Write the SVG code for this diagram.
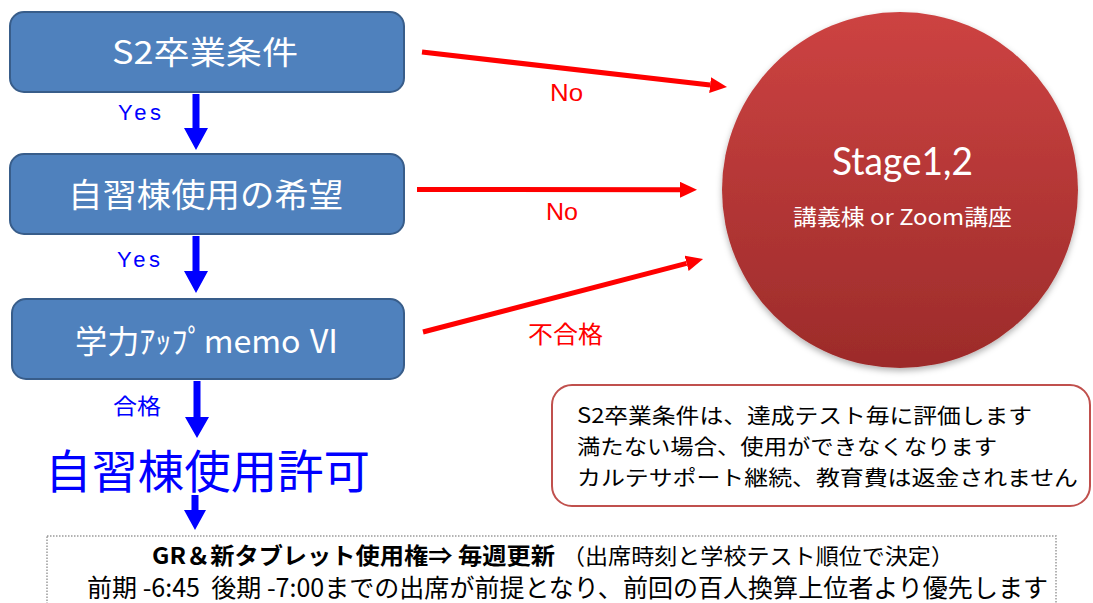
<svg xmlns="http://www.w3.org/2000/svg" width="1093" height="603" viewBox="0 0 1093 603">
  <style>
    .box { fill: #4f81bd; stroke: #385d8a; stroke-width: 2; }
    .boxtxt { fill: #ffffff; font-family: "Noto Sans CJK JP", "Liberation Sans", sans-serif; text-anchor: middle; }
    .blue { fill: #0000ff; }
    .bluelbl { fill: #0000ff; font-family: "Liberation Sans", "Noto Sans CJK JP", sans-serif; font-size: 22px; }
    .redlbl { fill: #ff0000; font-family: "Liberation Sans", "Noto Sans CJK JP", sans-serif; font-size: 24px; }
    .redline { stroke: #ff0000; stroke-width: 5; fill: none; }
    .jp { font-family: "Noto Sans CJK JP", sans-serif; }
    .note { font-family: "Noto Sans CJK JP", sans-serif; font-size: 21px; fill: #000000; }
  </style>
  <defs>
    <marker id="redhead" markerUnits="userSpaceOnUse" markerWidth="18" markerHeight="18" refX="0" refY="8" orient="auto">
      <path d="M0,0 L17,8 L0,16 Z" fill="#ff0000"/>
    </marker>
    <linearGradient id="circGrad" x1="0" y1="0" x2="0" y2="1">
      <stop offset="0" stop-color="#cd4342"/>
      <stop offset="1" stop-color="#9c2b2a"/>
    </linearGradient>
    <filter id="shadow" x="-20%" y="-20%" width="140%" height="140%">
      <feDropShadow dx="0" dy="3" stdDeviation="3" flood-color="#000000" flood-opacity="0.3"/>
    </filter>
  </defs>

  <g id="node-s2">
    <rect class="box" x="10" y="12" width="394" height="80" rx="14"/>
    <text class="boxtxt" x="205" y="64" font-size="32" textLength="186" lengthAdjust="spacingAndGlyphs">S2卒業条件</text>
  </g>

  <g id="node-kibou">
    <rect class="box" x="10" y="154" width="394" height="80" rx="14"/>
    <text class="boxtxt" x="205.5" y="207" font-size="33" textLength="275" lengthAdjust="spacingAndGlyphs">自習棟使用の希望</text>
  </g>

  <g id="node-memo">
    <rect class="box" x="12" y="299" width="392" height="80" rx="14"/>
    <text class="boxtxt" x="207.5" y="353" font-size="32" textLength="265" lengthAdjust="spacingAndGlyphs">学力ｱｯﾌﾟmemo Ⅵ</text>
  </g>

  <g id="node-kyoka">
    <text class="jp blue" x="45" y="488" font-size="46" textLength="325" lengthAdjust="spacingAndGlyphs">自習棟使用許可</text>
  </g>

  <g id="node-stage">
    <circle cx="900" cy="190" r="178" fill="url(#circGrad)" filter="url(#shadow)"/>
    <text x="902.5" y="175" fill="#ffffff" font-family="Lato, 'Noto Sans', sans-serif" font-size="38" text-anchor="middle" textLength="141" lengthAdjust="spacingAndGlyphs">Stage1,2</text>
    <text x="902.5" y="225" fill="#ffffff" font-family="'Noto Sans CJK JP', sans-serif" font-size="22" text-anchor="middle" textLength="219" lengthAdjust="spacingAndGlyphs">講義棟 or Zoom講座</text>
  </g>

  <g id="node-note">
    <rect x="552" y="385" width="538" height="121" rx="20" fill="#ffffff" stroke="#c0504d" stroke-width="2"/>
    <text class="note" x="577" y="423" textLength="455" lengthAdjust="spacingAndGlyphs">S2卒業条件は、達成テスト毎に評価します</text>
    <text class="note" x="577" y="454" textLength="420" lengthAdjust="spacingAndGlyphs">満たない場合、使用ができなくなります</text>
    <text class="note" x="577" y="485" textLength="501" lengthAdjust="spacingAndGlyphs">カルテサポート継続、教育費は返金されません</text>
  </g>

  <g id="node-bottom">
    <rect x="47" y="536" width="1009" height="90" fill="#ffffff" stroke="#9a9a9a" stroke-width="1.5" stroke-dasharray="1.5,1.5"/>
    <text class="jp" x="152" y="564" font-size="23" font-weight="bold" fill="#000000" textLength="403" lengthAdjust="spacingAndGlyphs">GR＆新タブレット使用権⇒ 毎週更新</text>
    <text class="jp" x="562" y="564" font-size="22" fill="#000000" textLength="392" lengthAdjust="spacingAndGlyphs">（出席時刻と学校テスト順位で決定）</text>
    <text class="jp" x="87" y="597" font-size="25" fill="#000000" textLength="961" lengthAdjust="spacingAndGlyphs" style="white-space:pre">前期 -6:45  後期 -7:00までの出席が前提となり、前回の百人換算上位者より優先します</text>
  </g>

  <g id="connectors">
    <path class="blue" d="M192.5,94 H199.5 V128 H208 L196,150 L184,128 H192.5 Z"/>
    <path class="blue" d="M192.5,236 H199.5 V271 H208 L196,293 L184,271 H192.5 Z"/>
    <path class="blue" d="M193.5,381 H200.5 V417 H209 L197,438 L185,417 H193.5 Z"/>
    <path class="blue" d="M191.5,495 H198.5 V510 H206 L195,530 L184,510 H191.5 Z"/>
    <text class="bluelbl" x="118" y="120" textLength="43" lengthAdjust="spacing">Yes</text>
    <text class="bluelbl" x="117" y="267" textLength="43" lengthAdjust="spacing">Yes</text>
    <text class="bluelbl" x="113" y="414" font-family="'Noto Sans CJK JP', sans-serif" textLength="48" lengthAdjust="spacingAndGlyphs">合格</text>

    <line class="redline" x1="422" y1="52" x2="710.1" y2="85.1" marker-end="url(#redhead)"/>
    <line class="redline" x1="417" y1="189.5" x2="680" y2="189.8" marker-end="url(#redhead)"/>
    <line class="redline" x1="423" y1="332" x2="686.6" y2="263.3" marker-end="url(#redhead)"/>
    <text class="redlbl" x="550" y="101" textLength="33" lengthAdjust="spacingAndGlyphs">No</text>
    <text class="redlbl" x="546" y="220" textLength="32" lengthAdjust="spacingAndGlyphs">No</text>
    <text class="redlbl" x="528" y="343" font-family="'Noto Sans CJK JP', sans-serif" textLength="75" lengthAdjust="spacingAndGlyphs">不合格</text>
  </g>
</svg>
